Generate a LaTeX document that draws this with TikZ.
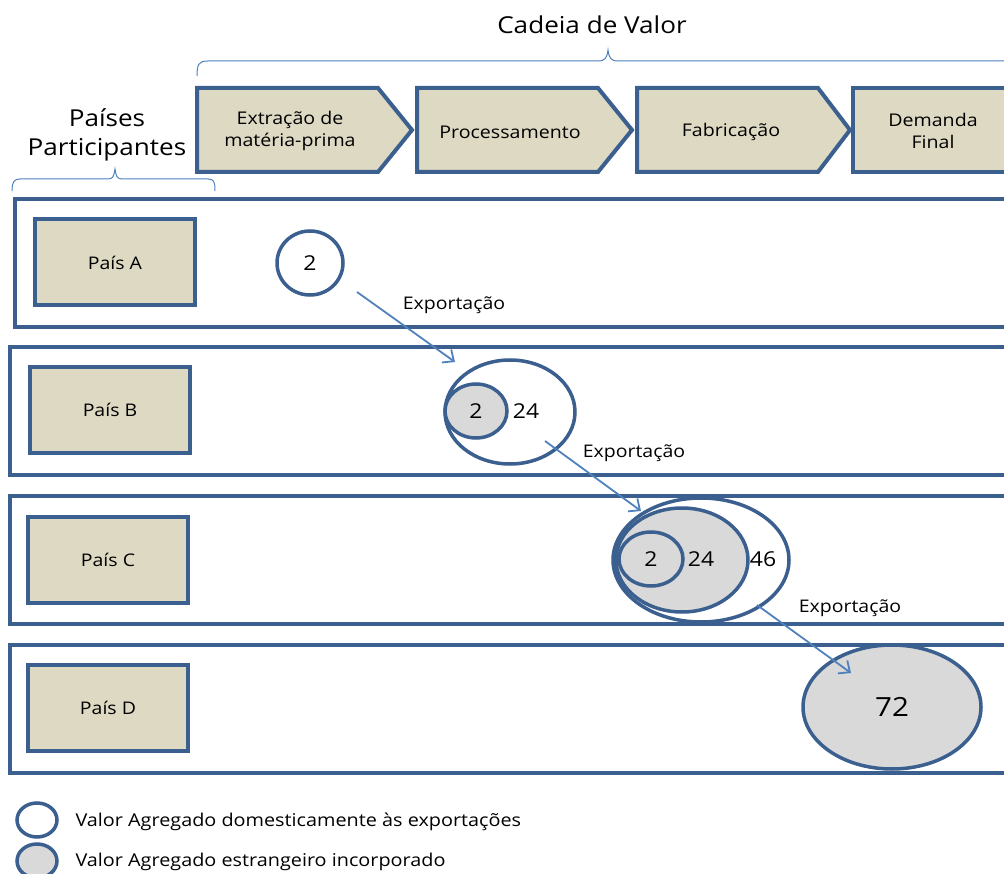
\documentclass[tikz,border=0pt]{standalone}
\usepackage{fontspec}
\setmainfont{Open Sans}[FakeStretch=1.12]
\usetikzlibrary{shapes.geometric,arrows.meta}
\definecolor{bord}{HTML}{3B5F8E}
\definecolor{beige}{HTML}{DDD9C3}
\definecolor{lgrey}{HTML}{D9D9D9}
\definecolor{arr}{HTML}{4F81BD}
\tikzset{
  rowbox/.style={draw=bord,line width=4pt},
  cbox/.style={draw=bord,fill=beige,line width=4pt,minimum width=160pt,minimum height=86pt,font=\fontsize{17.4}{20}\selectfont},
  chev/.style={draw=bord,fill=beige,line width=4pt,line join=miter},
  chevtxt/.style={font=\fontsize{17.5}{22}\selectfont,align=center},
  dom/.style={ellipse,draw=bord,line width=3.5pt,fill=white,inner sep=0pt},
  fore/.style={ellipse,draw=bord,line width=3.5pt,fill=lgrey,inner sep=0pt},
  num/.style={font=\fontsize{20.5}{22}\selectfont},
  expo/.style={draw=arr,line width=1.8pt,-{Straight Barb[length=9pt,width=16pt,line width=1.8pt]}},
  expolbl/.style={font=\fontsize{17.4}{20}\selectfont},
  brace/.style={draw=arr,line width=1pt},
  lgd/.style={font=\fontsize{17.7}{20}\selectfont,anchor=west},
  hdr/.style={font=\fontsize{23.3}{29}\selectfont,align=center}
}
\begin{document}
\begin{tikzpicture}[x=1pt,y=-1pt]
\useasboundingbox (0,0) rectangle (1004,874);
\clip (0,0) rectangle (1004,874);
% title & braces
\node[hdr] (title) at (592,25) {Cadeia de Valor};
\draw[brace] (197,76) .. controls (197,64) and (199,61) .. (208,61) -- (598,61) .. controls (605,61) and (607,58) .. (608,50)
  .. controls (609,58) and (611,61) .. (618,61) -- (1010,61);
\node[hdr] (paises) at (107,135) {Países\\Participantes};
\draw[brace] (12,191) .. controls (12,182) and (14,179) .. (20,179) -- (108,179) .. controls (113,179) and (114,176) .. (115,169)
  .. controls (116,176) and (117,179) .. (122,179) -- (208,179) .. controls (214,179) and (215,182) .. (215,191);
% chevrons
\draw[chev] (197,88) -- (378,88) -- (412,130) -- (378,172) -- (197,172) -- cycle;
\draw[chev] (417,88) -- (598,88) -- (632,130) -- (598,172) -- (417,172) -- cycle;
\draw[chev] (637,88) -- (818,88) -- (850,130) -- (818,172) -- (637,172) -- cycle;
\draw[chev] (853,88) -- (1020,88) -- (1020,172) -- (853,172) -- cycle;
\node[chevtxt] (c1) at (290,131) {Extração de\\matéria-prima};
\node[chevtxt] (c2) at (510,132) {Processamento};
\node[chevtxt] (c3) at (731,132) {Fabricação};
\node[chevtxt] (c4) at (933,131) {Demanda\\Final};
% rows
\draw[rowbox] (15,199) rectangle (1020,327);
\draw[rowbox] (10,347) rectangle (1020,475);
\draw[rowbox] (10,496) rectangle (1020,624);
\draw[rowbox] (10,645) rectangle (1020,773);
\node[cbox] (pa) at (115,262.5) {País A};
\node[cbox] (pb) at (110,410) {País B};
\node[cbox] (pc) at (108,560) {País C};
\node[cbox] (pd) at (108,708) {País D};
% circles
\node[dom,minimum width=66pt,minimum height=64pt] (a2) at (310,263) {};
\node[num] at (a2) {2};
\node[dom,minimum width=130pt,minimum height=104pt] (b24) at (510,412) {};
\node[fore,minimum width=62pt,minimum height=54pt] (b2) at (476,411) {};
\node[num] at (b2) {2};
\node[num] at (526,411) {24};
\node[dom,minimum width=176pt,minimum height=124pt] (c46) at (701,560) {};
\node[fore,minimum width=132pt,minimum height=104pt] (c24) at (682,560) {};
\node[fore,minimum width=64pt,minimum height=54pt] (c2) at (651,559) {};
\node[num] at (c2) {2};
\node[num] at (701,559) {24};
\node[num] at (763,559) {46};
\node[fore,minimum width=178pt,minimum height=124pt] (d72) at (892,707) {};
\node[font=\fontsize{26.4}{28}\selectfont] at (d72) {72};
% arrows
\coordinate (e1s) at (357,292); \coordinate (e1e) at (455,362);
\coordinate (e2s) at (545,441); \coordinate (e2e) at (641,511);
\coordinate (e3s) at (757,605); \coordinate (e3e) at (851,673);
\draw[expo] (e1s) -- (e1e);
\draw[expo] (e2s) -- (e2e);
\draw[expo] (e3s) -- (e3e);
\node[expolbl] (x1) at (454,305) {Exportação};
\node[expolbl] (x2) at (634,453) {Exportação};
\node[expolbl] (x3) at (850,608) {Exportação};
% legend
\node[dom,minimum width=40pt,minimum height=34pt] (l1) at (37,820) {};
\node[fore,minimum width=40pt,minimum height=34pt] (l2) at (37,861) {};
\node[lgd] (t1) at (72,822) {Valor Agregado domesticamente às exportações};
\node[lgd] (t2) at (72,862) {Valor Agregado estrangeiro incorporado};
\end{tikzpicture}
\end{document}
